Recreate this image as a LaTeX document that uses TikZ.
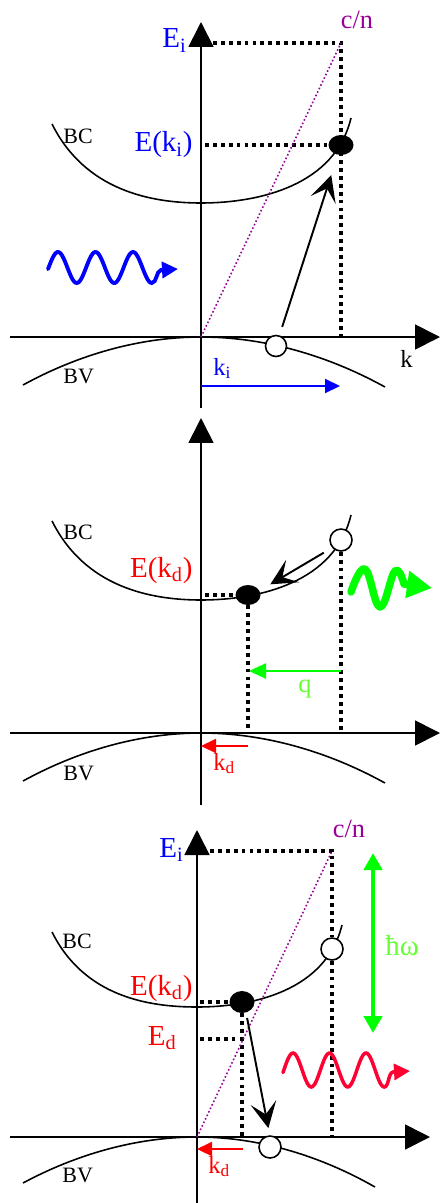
\documentclass[tikz,border=0pt]{standalone}
\usepackage{fontspec}
\setmainfont{Liberation Serif}
\usepackage{tikz}
\usetikzlibrary{arrows.meta,calc,positioning,shapes.geometric}

\definecolor{eblue}{RGB}{0,0,255}
\definecolor{ered}{RGB}{255,0,0}
\definecolor{wavered}{RGB}{255,0,51}
\definecolor{phgreen}{RGB}{0,255,0}
\definecolor{lightgreen}{RGB}{102,255,51}
\definecolor{cnpurple}{RGB}{153,0,153}

\begin{document}
\begin{tikzpicture}[
  x=0.02cm, y=-0.02cm,
  font=\fontsize{16.5}{19}\selectfont,
  axis/.style={line width=1pt, -{Triangle[length=0.5cm, width=0.5cm]}},
  band/.style={line width=0.9pt},
  guide/.style={line width=1.9pt, dash pattern=on 2.2pt off 2.3pt},
  light/.style={draw=cnpurple, line width=0.9pt, dash pattern=on 0.9pt off 1.3pt},
  hole/.style={circle, draw, fill=white, line width=0.9pt, minimum size=0.42cm, inner sep=0pt},
  elec/.style={ellipse, fill=black, minimum width=0.5cm, minimum height=0.4cm, inner sep=0pt},
  trans/.style={line width=1.1pt, -{Stealth[length=0.52cm, width=0.52cm, inset=0.24cm]}},
  kvec/.style={line width=1.2pt, -{Triangle[length=0.3cm, width=0.28cm]}},
  qvec/.style={draw=phgreen, line width=1.4pt, -{Triangle[length=0.34cm, width=0.3cm]}},
  photon/.style={line width=2.2pt, line cap=round, -{Triangle[length=0.32cm, width=0.32cm]}},
  gwave/.style={draw=phgreen, line width=0.15cm, line cap=round, line join=round, -{Triangle[length=0.5cm, width=0.52cm]}},
  bandlab/.style={font=\fontsize{12.5}{15}\selectfont, anchor=base west, inner sep=0pt},
  klab/.style={font=\fontsize{14}{16}\selectfont, anchor=base west, inner sep=0pt},
  elab/.style={anchor=base east, inner sep=0pt},
  cnlab/.style={text=cnpurple, font=\fontsize{15}{18}\selectfont, anchor=base, inner sep=0pt}
]
\useasboundingbox (0,0) rectangle (440,1203);

% ---- absorption
\coordinate (o1) at (201,337);
\coordinate (yb1) at (201,408);
\coordinate (yt1) at (201,22);
\coordinate (xl1) at (10,337);
\coordinate (xr1) at (440,337);
\draw[axis] (yb1) -- (yt1);
\draw[axis] (xl1) -- (xr1);
\draw[band] (52,124) .. controls (85,190) and (150,203) .. (201,203) .. controls (260,203) and (335,185) .. (351,118);
\draw[band] (23,385) parabola bend (o1) (385,387);
\node[bandlab] (bc1) at (63,143) {BC};
\node[bandlab] (bv1) at (63,383) {BV};
\node[hole] (h1) at (276,346) {};
\node[elec] (e1) at (341,145) {};
\coordinate (es1) at (213,43);
\coordinate (ec1) at (341,43);
\coordinate (ef1) at (341,336);
\coordinate (ks1) at (205,145);
\draw[guide] (es1) -- (ec1) -- (ef1);
\draw[guide] (ks1) -- (e1);
\draw[light] (o1) -- (ec1);
\node[elab, text=eblue] (ei1) at (187,48) {E\textsubscript{i}};
\node[elab, text=eblue] (eki1) at (193,152) {E(k\textsubscript{i})};
\node[cnlab] (cn1) at (357,29) {c/n};
\node[klab] (k1) at (400,367) {k};
\node[klab, text=eblue] (ki1) at (213,375) {k\textsubscript{i}};
\coordinate (kis1) at (201,386);
\coordinate (kie1) at (340,386);
\draw[kvec, eblue] (kis1) -- (kie1);
\draw[trans] ($(h1)!0.095!(e1)$) -- ($(h1)!0.85!(e1)$);
\draw[photon, eblue] plot[domain=48:151.75, samples=80] (\x, {267.5-15.5*cos(9.6*(\x-58))})
  .. controls (157,283) and (156,271) .. (161,270) -- (178,269);

% ---- phonon emission
\coordinate (o2) at (201,733);
\coordinate (yb2) at (201,805);
\coordinate (yt2) at (201,418);
\coordinate (xl2) at (10,733);
\coordinate (xr2) at (440,733);
\draw[axis] (yb2) -- (yt2);
\draw[axis] (xl2) -- (xr2);
\draw[band] (52,521) .. controls (85,587) and (150,600) .. (201,600) .. controls (260,600) and (335,582) .. (351,515);
\draw[band] (23,781) parabola bend (o2) (385,783);
\node[bandlab] (bc2) at (63,539) {BC};
\node[bandlab] (bv2) at (63,780) {BV};
\node[hole, minimum size=0.44cm] (h2) at (341,540) {};
\node[elec] (e2) at (248,595) {};
\coordinate (ks2) at (205,595);
\draw[guide] (ks2) -- (e2);
\draw[guide] (e2) -- (e2 |- o2);
\draw[guide] (h2) -- (h2 |- o2);
\node[elab, text=ered] (ekd2) at (193,577) {E(k\textsubscript{d})};
\draw[trans] ($(h2)!0.185!(e2)+(0,2.5)$) -- ($(h2)!0.76!(e2)+(0,2.5)$);
\draw[gwave] plot[smooth, tension=0.7] coordinates {(351,592) (365,569) (380,607) (395,571) (404,584)} -- (432,588);
\coordinate (qs2) at (341,671);
\coordinate (qe2) at (249,671);
\draw[qvec] (qs2) -- (qe2);
\node[anchor=base west, inner sep=0pt, text=lightgreen, font=\fontsize{15}{18}\selectfont] (q2) at (298,692) {q};
\coordinate (kds2) at (248,746);
\coordinate (kde2) at (201,746);
\draw[kvec, ered] (kds2) -- (kde2);
\node[klab, text=ered] (kd2) at (213,770) {k\textsubscript{d}};

% ---- photon emission
\coordinate (o3) at (197,1137);
\coordinate (yb3) at (197,1203);
\coordinate (yt3) at (197,830);
\coordinate (xl3) at (10,1137);
\coordinate (xr3) at (430,1137);
\draw[axis] (yb3) -- (yt3);
\draw[axis] (xl3) -- (xr3);
\draw[band] (52,932) .. controls (84,996) and (147,1007) .. (197,1007) .. controls (254,1007) and (326,990) .. (342,925);
\draw[band] (23,1183) parabola bend (o3) (375,1187);
\node[bandlab] (bc3) at (62,948) {BC};
\node[bandlab] (bv3) at (62,1182) {BV};
\node[hole, minimum size=0.44cm] (h3) at (332,949) {};
\node[elec, minimum height=0.44cm] (e3) at (242,1002) {};
\node[hole, minimum size=0.44cm] (h4) at (270,1147) {};
\coordinate (es3) at (210,851);
\coordinate (ec3) at (332,851);
\coordinate (ks3) at (200,1002);
\coordinate (eds3) at (200,1039);
\draw[guide] (es3) -- (ec3) -- (h3) -- (h3 |- o3);
\draw[guide] (ks3) -- (e3);
\draw[guide] (e3) -- (e3 |- o3);
\draw[guide] (eds3) -- (eds3 -| e3);
\draw[light] (o3) -- (ec3);
\node[elab, text=eblue] (ei3) at (184,857) {E\textsubscript{i}};
\node[cnlab] (cn3) at (349,837) {c/n};
\node[elab, text=ered] (ekd3) at (193,995) {E(k\textsubscript{d})};
\node[elab, text=ered] (ed3) at (177,1045) {E\textsubscript{d}};
\draw[trans] ($(e3)!0.11!(h4)+(2,0)$) -- ($(e3)!0.87!(h4)+(2,0)$);
\coordinate (hwt3) at (373,853);
\coordinate (hwb3) at (373,1033);
\draw[draw=phgreen, line width=2.8pt, {Triangle[length=0.34cm, width=0.36cm]}-{Triangle[length=0.34cm, width=0.36cm]}] (hwt3) -- (hwb3);
\node[anchor=base west, inner sep=0pt, text=lightgreen] (hw3) at (385,955) {ħω};
\draw[photon, wavered, line width=2pt] plot[domain=283:384.25, samples=80] (\x, {1070-17*cos(9.863*(\x-293))})
  .. controls (389,1087) and (388,1073) .. (393,1072) -- (410,1071);
\coordinate (kds3) at (243,1149);
\coordinate (kde3) at (197,1149);
\draw[kvec, ered] (kds3) -- (kde3);
\node[klab, text=ered] (kd3) at (208,1173) {k\textsubscript{d}};
\end{tikzpicture}
\end{document}
